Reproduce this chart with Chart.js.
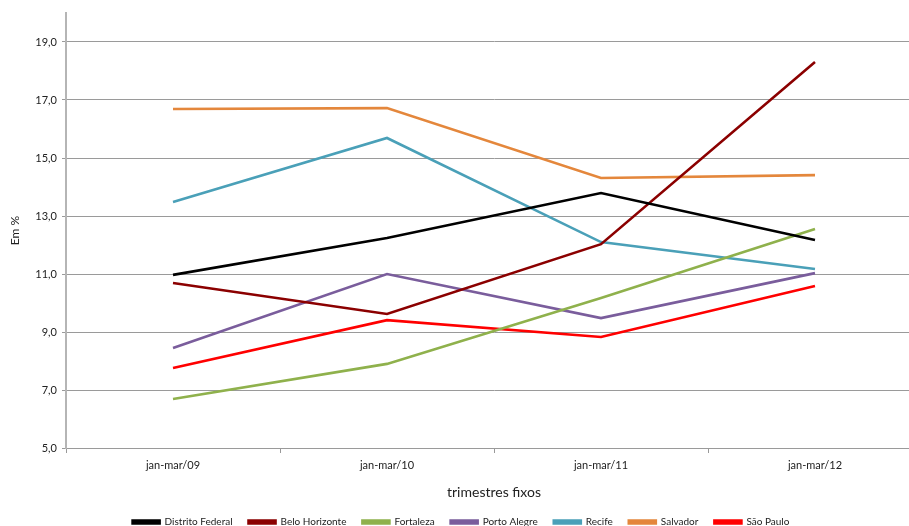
<!DOCTYPE html>
<html>
<head>
<meta charset="utf-8">
<script src="https://cdn.jsdelivr.net/npm/chart.js@4.4.1/dist/chart.umd.min.js"></script>
<style>
    html, body { margin: 0; padding: 0; background: #fff; overflow: hidden; }
    #wrap { width: 925px; height: 537px; }
</style>
</head>
<body>
<div id="wrap"><canvas id="taxaChart"></canvas></div>
<script>
// ---------------- Dados ----------------
const trimestres = ["jan-mar/09", "jan-mar/10", "jan-mar/11", "jan-mar/12"];

const distritoFederal = [10.97, 12.24, 13.79, 12.17];
const beloHorizonte   = [10.69, 9.62, 12.03, 18.31];
const fortaleza       = [6.69, 7.90, 10.17, 12.55];
const portoAlegre     = [8.45, 11.00, 9.48, 11.03];
const recife          = [13.48, 15.69, 12.10, 11.17];
const salvador        = [16.69, 16.72, 14.31, 14.41];
const saoPaulo        = [7.76, 9.41, 8.83, 10.59];

const yTicks = [5, 7, 9, 11, 13, 15, 17, 19];

const series = [
    { label: "Distrito Federal", data: distritoFederal, color: "#000000" },
    { label: "Belo Horizonte",   data: beloHorizonte,   color: "#8b0000" },
    { label: "Fortaleza",        data: fortaleza,       color: "#8fb14c" },
    { label: "Porto Alegre",     data: portoAlegre,     color: "#7a5d9c" },
    { label: "Recife",           data: recife,          color: "#4aa0b8" },
    { label: "Salvador",         data: salvador,        color: "#e4873c" },
    { label: "São Paulo",        data: saoPaulo,        color: "#ff0000" }
];

const fontFamily = "Lato, 'Open Sans', sans-serif";

const datasets = series.map(s => ({
    label: s.label,
    data: s.data,
    borderColor: s.color,
    backgroundColor: s.color,
    borderWidth: 2.6,
    pointRadius: 0,
    tension: 0
}));

// ---------------- Gráfico ----------------
new Chart(document.getElementById("taxaChart"), {
    type: "line",
    data: { labels: trimestres, datasets: datasets },
    options: {
        responsive: true,
        maintainAspectRatio: false,
        animation: false,
        layout: { padding: { top: 13, left: 0, right: 3, bottom: 0 } },
        scales: {
            x: {
                offset: true,
                grid: {
                    offset: true,
                    drawOnChartArea: false,
                    drawTicks: true,
                    tickLength: 5,
                    color: "#999"
                },
                border: { display: false },
                ticks: {
                    color: "#222",
                    font: { family: fontFamily, size: 11 },
                    padding: 6,
                    maxRotation: 0
                },
                title: {
                    display: true,
                    text: "trimestres fixos",
                    color: "#222",
                    font: { family: fontFamily, size: 14 },
                    padding: { top: 10, bottom: 0 }
                },
                afterFit: s => { s.height = 53; }
            },
            y: {
                min: 5,
                max: 20,
                afterBuildTicks: axis => {
                    axis.ticks = yTicks.map(v => ({ value: v }));
                },
                grid: {
                    color: "#9a9a9a",
                    lineWidth: 1,
                    drawTicks: true,
                    tickLength: 4
                },
                border: { color: "#b5b5b5", width: 2 },
                ticks: {
                    color: "#222",
                    font: { family: fontFamily, size: 11 },
                    padding: 5,
                    callback: v => v.toFixed(1).replace(".", ",")
                },
                title: {
                    display: true,
                    text: "Em %",
                    color: "#222",
                    font: { family: fontFamily, size: 12 },
                    padding: { top: 8, bottom: 4 }
                },
                afterFit: s => { s.width = 66; }
            }
        },
        plugins: {
            legend: {
                position: "bottom",
                labels: {
                    boxWidth: 27,
                    boxHeight: 3,
                    padding: 16,
                    color: "#222",
                    font: { family: fontFamily, size: 10 }
                }
            },
            tooltip: { enabled: false }
        }
    }
});
</script>
</body>
</html>
